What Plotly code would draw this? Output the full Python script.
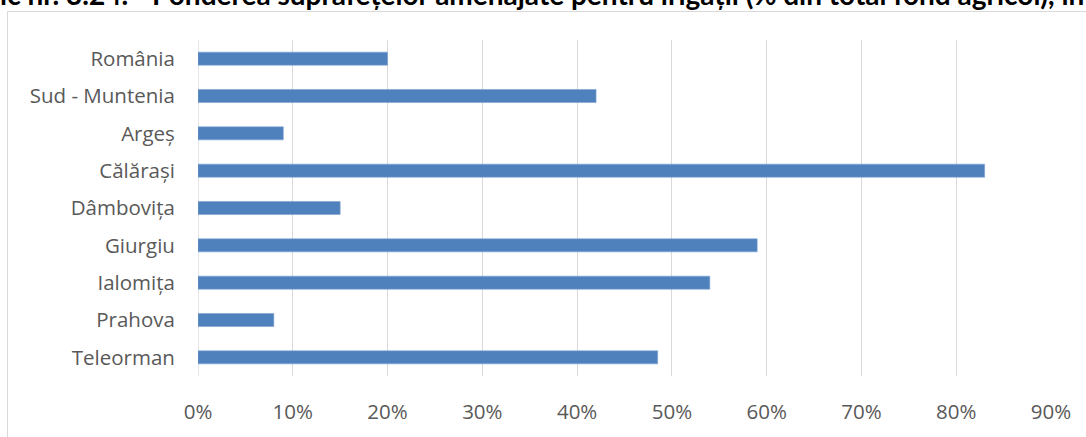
import plotly.graph_objects as go

categories = ["România", "Sud - Muntenia", "Argeș", "Călărași", "Dâmbovița",
              "Giurgiu", "Ialomița", "Prahova", "Teleorman"]
values = [20, 42, 9, 83, 15, 59, 54, 8, 48.5]
tick_vals = [0, 10, 20, 30, 40, 50, 60, 70, 80, 90]
tick_text = ["0%", "10%", "20%", "30%", "40%", "50%", "60%", "70%", "80%", "90%"]
title_text = ("Grafic nr. 3.24. - Ponderea suprafețelor amenajate pentru irigații "
              "(% din total fond agricol), în")

W, H = 1086, 437
L, R, T, B = 198, 35, 40, 55
pw, ph = W - L - R, H - T - B

FONT = "Open Sans"
LBL = 20.5

fig = go.Figure(go.Bar(
    x=values, y=categories, orientation="h",
    marker=dict(color="#4f81bd", line=dict(color="#7fa2d0", width=0.6)),
    width=0.35,
))

fig.update_layout(
    width=W, height=H,
    margin=dict(l=L, r=R, t=T, b=B),
    paper_bgcolor="white", plot_bgcolor="white",
    showlegend=False,
    font=dict(family=FONT, size=LBL, color="#595959"),
    xaxis=dict(range=[0, 90], tickvals=tick_vals, ticktext=tick_text,
               showgrid=True, gridcolor="#d9d9d9", gridwidth=1.3,
               zeroline=False, showline=False, ticks="outside", ticklen=17,
               tickcolor="rgba(0,0,0,0)", tickfont=dict(size=LBL, color="#595959")),
    yaxis=dict(categoryorder="array", categoryarray=categories, autorange="reversed",
               showgrid=False, zeroline=False, showline=False,
               ticks="outside", ticklen=18, tickcolor="rgba(0,0,0,0)",
               tickfont=dict(size=LBL, color="#595959")),
    shapes=[
        dict(type="line", xref="x", yref="paper", x0=0, x1=0, y0=0, y1=1,
             line=dict(color="#d9d9d9", width=1.3), layer="below"),
        dict(type="rect", xref="paper", yref="paper",
             x0=(7.5 - L) / pw, x1=(W + 20 - L) / pw,
             y0=-(H + 20 - T - ph) / ph, y1=1 + (T - 11) / ph,
             line=dict(color="#d9d9d9", width=1), fillcolor="rgba(0,0,0,0)"),
    ],
    annotations=[
        dict(text=title_text, xref="paper", yref="paper",
             x=(-56 - L) / pw, xanchor="left",
             y=1 + (T - 13) / ph, yanchor="bottom", showarrow=False,
             font=dict(family="Lato", size=28, color="black", weight="bold")),
    ],
)

fig.write_html("out.html", config={"displayModeBar": False},
               post_script="document.body.style.margin='0';")
